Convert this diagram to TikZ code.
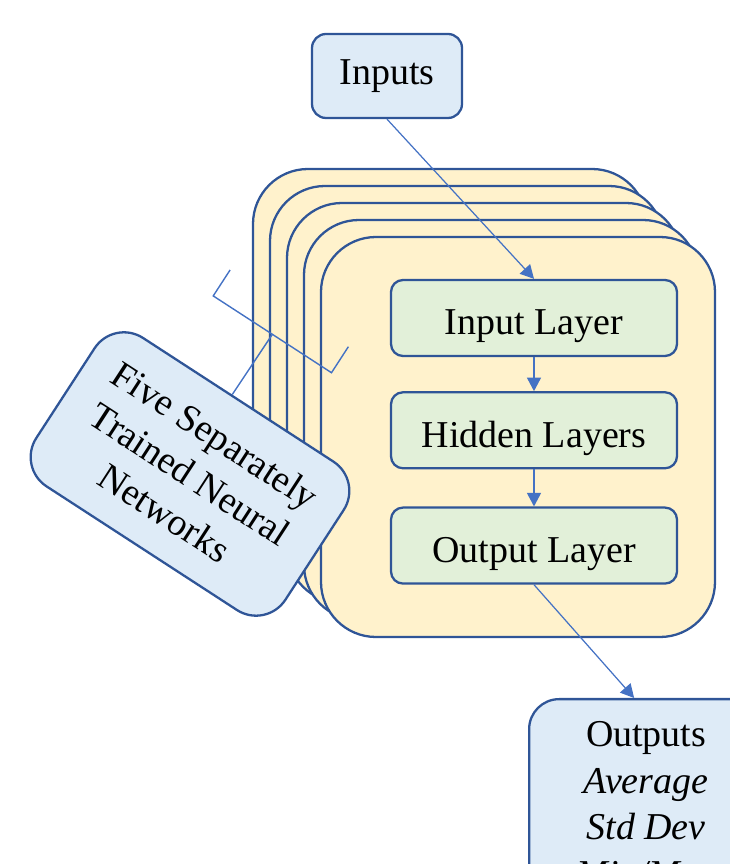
\documentclass[tikz,border=0pt]{standalone}
\usepackage{fontspec}
\setmainfont{Liberation Serif}
\usetikzlibrary{positioning,arrows.meta}
\definecolor{boxblue}{HTML}{DEEBF7}
\definecolor{edgeblue}{HTML}{2F5597}
\definecolor{lineblue}{HTML}{4472C4}
\definecolor{cardyellow}{HTML}{FFF2CC}
\definecolor{layergreen}{HTML}{E2F0D9}
\newcommand{\bigtext}{\fontsize{21.6}{26.5}\selectfont}

\begin{document}
\begin{tikzpicture}[
  every node/.style={font=\bigtext},
  roundbox/.style={draw=edgeblue, line width=1.3pt, fill=boxblue, rounded corners=0.28cm, align=center},
  card/.style={draw=edgeblue, line width=1.3pt, fill=cardyellow, rounded corners=1.1cm,
               minimum width=7.88cm, minimum height=8cm},
  layer/.style={draw=edgeblue, line width=1.3pt, fill=layergreen, rounded corners=0.24cm,
                minimum width=5.72cm, minimum height=1.52cm, text height=0.8cm, text depth=0.12cm},
  flow/.style={draw=lineblue, line width=0.7pt, -{Triangle[width=0.28cm,length=0.27cm]}},
  pointer/.style={draw=lineblue, line width=0.8pt}
]
% frame
\useasboundingbox (0,0) rectangle (14.6,17.28);
\clip (0,0) rectangle (14.6,17.28);
%
% inputs box
\node[roundbox, minimum width=3cm, minimum height=1.68cm] (inputs) at (7.74,15.76) {Inputs};
%
% five stacked networks, back one first
\foreach \i in {0,1,...,4}
   \node[card] (card\i) at ({9.00+0.34*\i},{9.90-0.34*\i}) {};
%
% layers of the front network
\node[layer] (inlayer) at (10.68,10.92) {Input Layer};
\node[layer, below=0.68cm of inlayer] (hidlayer) {Hidden Layers};
\node[layer, below=0.74cm of hidlayer] (outlayer) {Output Layer};
%
% outputs box (runs off the page)
\node[roundbox, rounded corners=0.6cm, anchor=north west, minimum width=4.68cm,
      inner ysep=0.45cm] (outs) at (10.56,3.32)
   {Outputs\\ \textit{Average}\\ \textit{Std Dev}\\ \textit{Min/Max}};
%
% arrows
\draw[flow] (inputs.south) -- (inlayer.north);
\draw[flow] (inlayer) -- (hidlayer);
\draw[flow] (hidlayer) -- (outlayer);
\draw[flow] (outlayer.south) -- ([xshift=-0.24cm]outs.north);
%
% bracket callout
\node[roundbox, rounded corners=0.7cm, rotate=-33, minimum width=5.94cm, minimum height=3.54cm]
   (nets) at (3.80,7.80) {Five Separately\\ Trained Neural\\ Networks};
\begin{scope}[shift={(nets.center)}, rotate=-33]
   \coordinate (brkmid) at (-0.14,3.24);
   \draw[pointer] (-1.55,3.86) -- (-1.55,3.24) -- (1.27,3.24) -- (1.27,3.86);
   \draw[pointer] (nets.95) -- (brkmid);
\end{scope}
\end{tikzpicture}
\end{document}
